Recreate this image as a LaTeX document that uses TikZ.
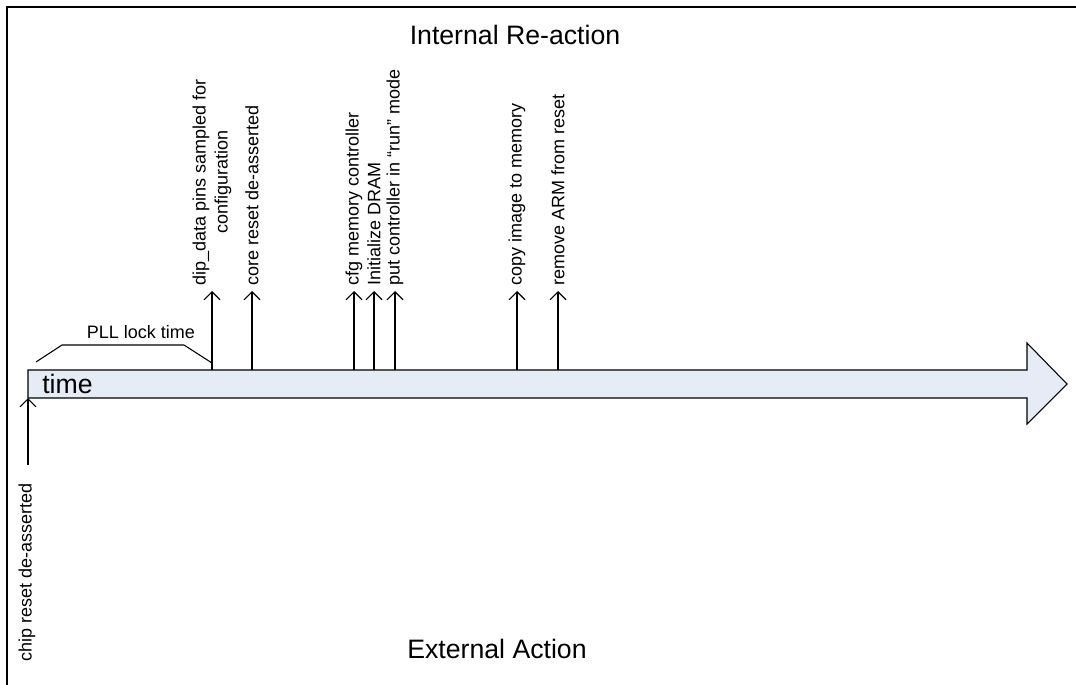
\documentclass[tikz,border=0pt]{standalone}
\usepackage{fontspec}
\setmainfont{Liberation Sans}
\usetikzlibrary{arrows.meta,positioning}

\begin{document}
\begin{tikzpicture}[x=0.75pt,y=-0.75pt,
evt/.style={rotate=90,anchor=west,inner sep=4pt,font=\fontsize{13.5}{16.5}\selectfont},
tick/.style={-{Straight Barb[length=6pt,width=12pt]},line width=0.8pt},
big/.style={font=\fontsize{20}{24}\selectfont}]
\useasboundingbox (0,0) rectangle (1076,685);
\draw[line width=1.2pt] (1076,7) -- (7,7) -- (7,685);

% time arrow
\draw[fill={rgb,255:red,229;green,236;blue,246},line width=0.8pt]
(28,370) -- (1027,370) -- (1027,343) -- (1067,384) -- (1027,424) -- (1027,398) -- (28,398) -- cycle;
\node[big,anchor=base west,inner sep=0pt] (time) at (42,393) {time};

\node[big] (internal) at (515,35) {Internal Re-action};
\node[big] (external) at (497,649) {External Action};

% PLL lock bracket
\coordinate (p0) at (36,362);
\coordinate (p1) at (62,345);
\coordinate (p2) at (184,345);
\coordinate (p3) at (212,363);
\draw[line width=0.8pt] (p0) -- (p1) -- (p2) -- (p3);
\node[font=\fontsize{13.5}{16}\selectfont] (pll) at (141,332) {PLL lock time};

% events
\node[evt,align=center] (dip) at (212,291) {dip\_data pins sampled for\\configuration};
\node[evt] (core) at (252,291) {core reset de-asserted};
\node[evt] (cfg) at (354,291) {cfg memory controller};
\node[evt] (init) at (374,291) {Initialize DRAM};
\node[evt] (run) at (395,291) {put controller in ``run'' mode};
\node[evt] (copy) at (517,291) {copy image to memory};
\node[evt] (arm) at (558,291) {remove ARM from reset};
\node[evt,anchor=east] (chip) at (27,478) {chip reset de-asserted};

\coordinate (t1) at (212,370);
\coordinate (t2) at (252,370);
\coordinate (t3) at (354,370);
\coordinate (t4) at (374,370);
\coordinate (t5) at (395,370);
\coordinate (t6) at (517,370);
\coordinate (t7) at (558,370);
\coordinate (t0) at (28,398);
\coordinate (c0) at (28,465);

\path[tick]
(t1) edge (dip.west)
(t2) edge (core.west)
(t3) edge (cfg.west)
(t4) edge (init.west)
(t5) edge (run.west)
(t6) edge (copy.west)
(t7) edge (arm.west)
(c0) edge (t0)
;
\end{tikzpicture}
\end{document}
